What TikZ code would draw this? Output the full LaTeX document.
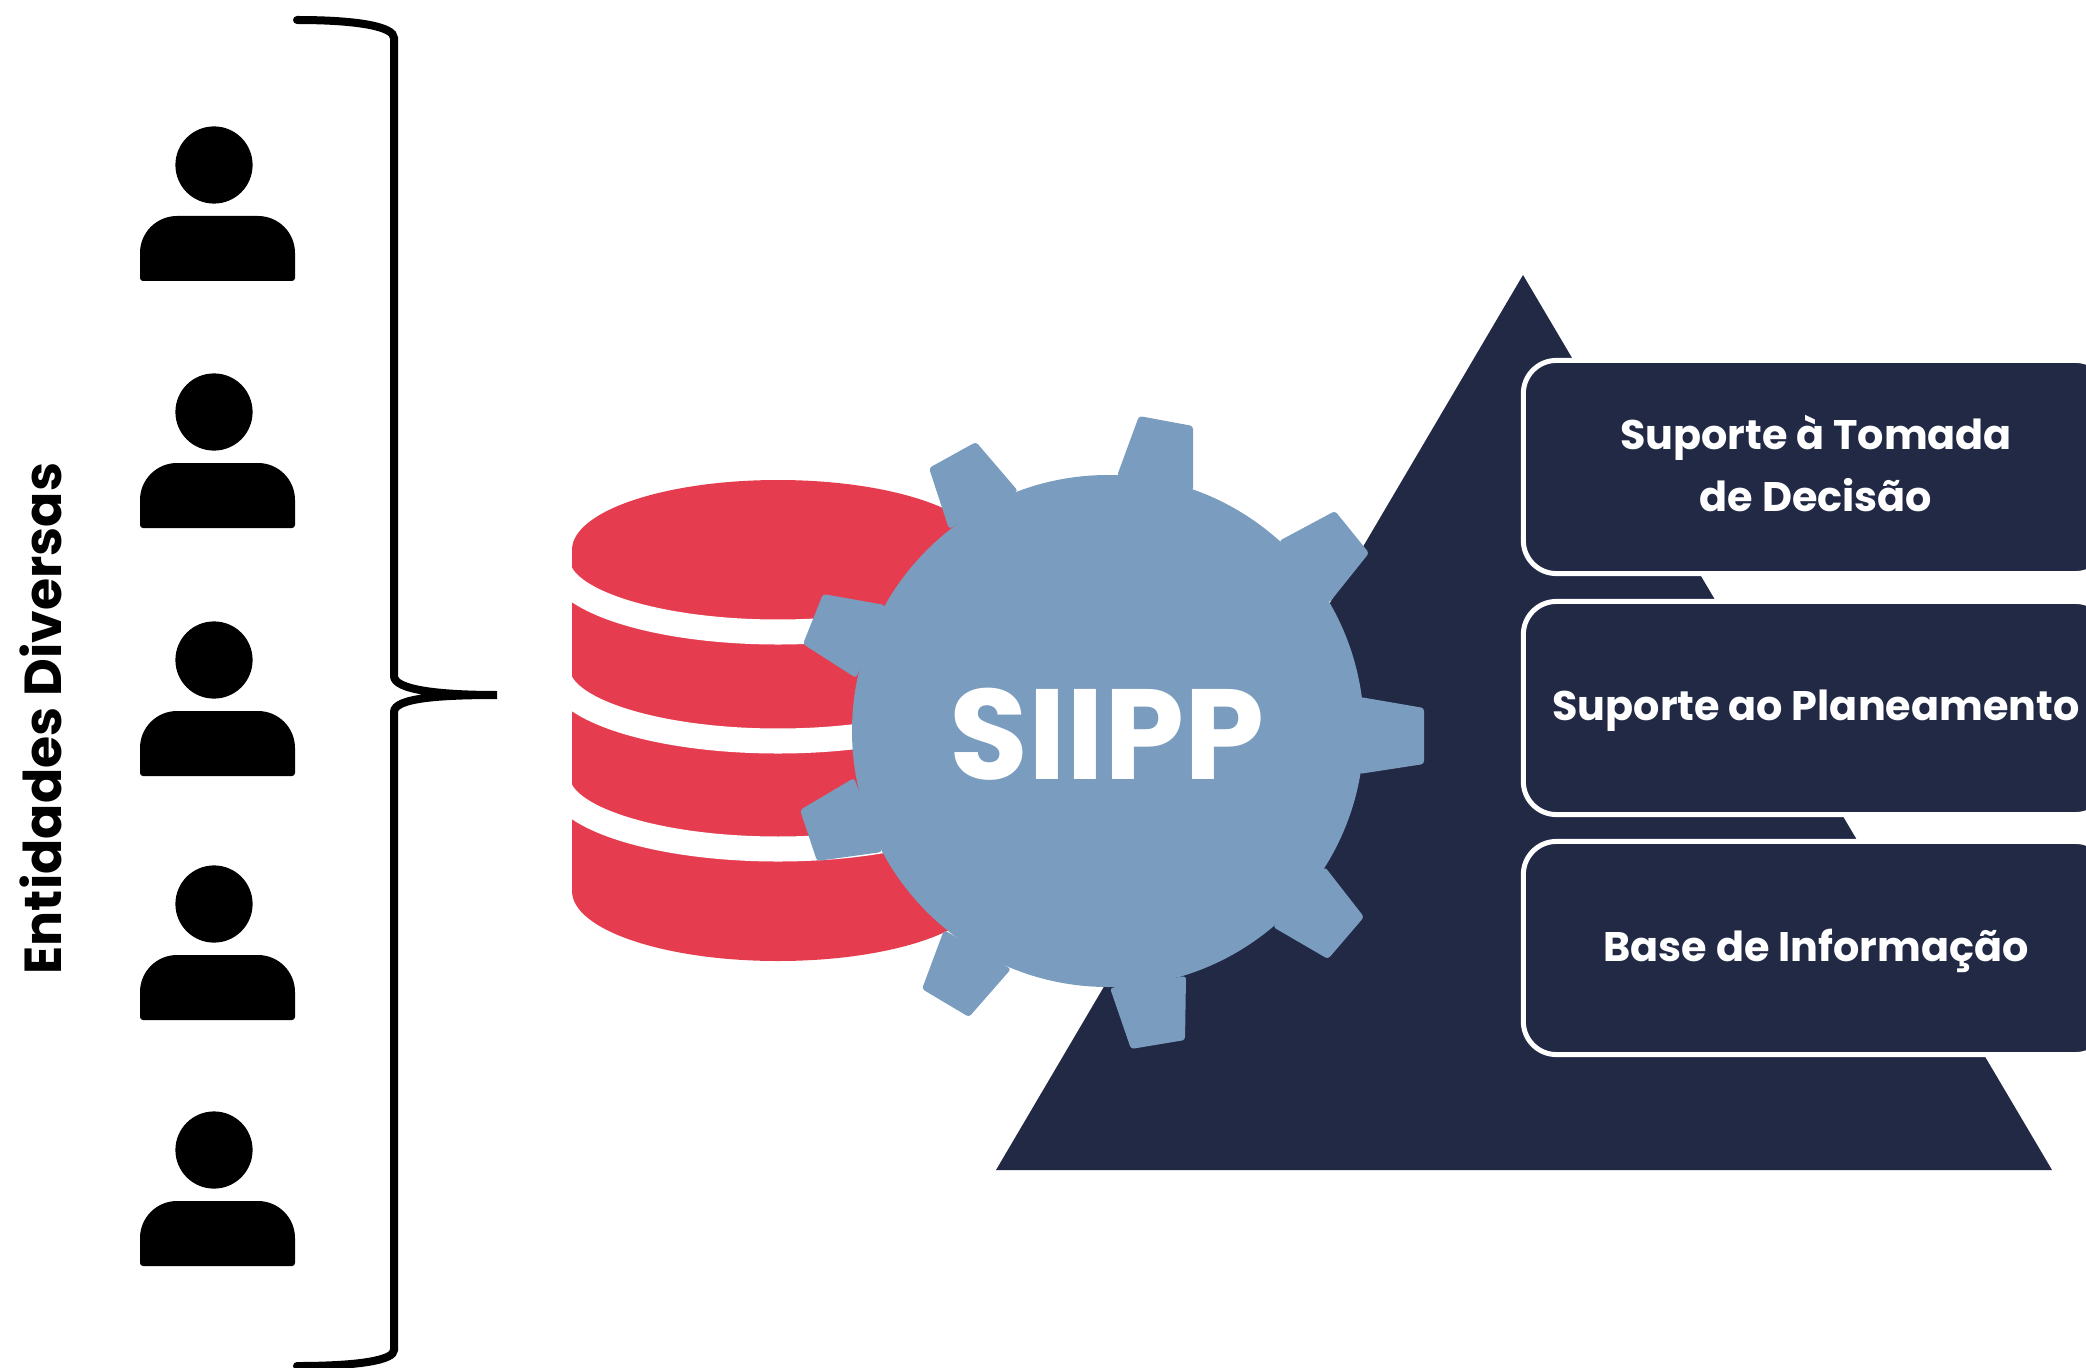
\documentclass[tikz,border=0pt]{standalone}
\usepackage{xcolor}
\usepackage{fontspec}
\usepackage{tikz}
\setmainfont{Poppins}
\definecolor{dbred}{rgb}{0.90, 0.24, 0.31}
\definecolor{gearblue}{rgb}{0.48, 0.61, 0.75}
\definecolor{navy}{rgb}{0.13, 0.16, 0.27}
\tikzset{
	infobox/.style={draw=white, line width=0.05cm, fill=navy, rounded corners=0.33cm, minimum width=5.85cm, minimum height=2.13cm, inner sep=0pt, align=center, text=white, font=\bfseries\fontsize{11.75pt}{17.6pt}\selectfont},
	tooth/.style={fill=gearblue, rounded corners=0.03cm}
}

\begin{document}
\begin{tikzpicture}[x=0.01cm, y=-0.01cm]
	\useasboundingbox (0,0) rectangle (2086,1367);
	\pgfmathsetmacro{\dbx}{778}
	\pgfmathsetmacro{\dbr}{206}
	\fill[navy] (1523,275) -- (996,1170) -- (2052,1170) -- cycle;
	\node[infobox, text depth=0.075cm] (decisao) at (1816,467) {Suporte à Tomada\\de Decisão};
	\node[infobox, text depth=0.05cm] (planeamento) at (1816,708) {Suporte ao Planeamento};
	\node[infobox, text depth=0.06cm] (base) at (1816,948) {Base de Informação};
	\fill[dbred] (\dbx,550) ellipse [x radius=\dbr, y radius=70];
	\fill[dbred] (\dbx,891) ellipse [x radius=\dbr, y radius=70];
	\fill[dbred] (\dbx-\dbr,550) rectangle (\dbx+\dbr,891);
	\foreach \bandy in {632,741,849}
		\draw[white, line width=0.25cm] (558,\bandy-70) arc [start angle=180, end angle=0, x radius=220, y radius=70];
	\fill[gearblue] (1108,731) circle [radius=256];
	\foreach \a/\b/\c/\d in {{1117,476}/{1139,416}/{1193,426}/{1193,491}, {1279,541}/{1335,511}/{1369,553}/{1329,603}, {1360,697}/{1424,708}/{1424,764}/{1359,774}, {1325,867}/{1364,917}/{1328,959}/{1273,927}, {1186,976}/{1185,1040}/{1131,1049}/{1110,988}, {1011,969}/{969,1017}/{922,989}/{944,930}, {882,852}/{817,861}/{800,810}/{854,778}, {856,678}/{803,644}/{823,594}/{885,605}, {949,529}/{929,468}/{976,442}/{1018,491}}
		\fill[tooth] (\a) -- (\b) -- (\c) -- (\d) -- cycle;
	\node[text=white, font=\bfseries\fontsize{36.5pt}{36.5pt}\selectfont] (siipp) at (1107,734) {SIIPP};
	\foreach \heady in {165,412,660,904,1150} {
		\fill (214,\heady) circle [radius=38.6];
		\fill[rounded corners=0.37cm] (140,\heady+116) -- (140,\heady+51) -- (295,\heady+51) [rounded corners=0.03cm] -- (295,\heady+116) -- cycle;
	}
	\draw[line width=0.08cm, line cap=round] (297,20) .. controls (360,20) and (394,27) .. (394,38) -- (394,676) .. controls (394,690) and (440,695) .. (497,695) .. controls (440,695) and (394,698) .. (394,712) -- (394,1350) .. controls (394,1360) and (360,1366) .. (297,1366);
	\node[rotate=90, anchor=base west, inner sep=0pt, font=\bfseries\fontsize{14.8pt}{15pt}\selectfont] (entidades) at (61,975) {Entidades Diversas};
\end{tikzpicture}
\end{document}
